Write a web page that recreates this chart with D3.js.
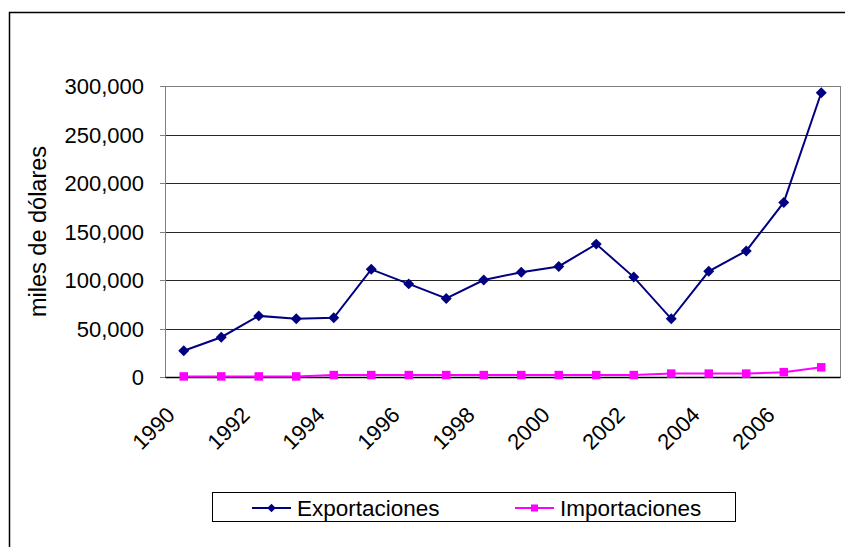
<!DOCTYPE html>
<html>
<head>
<meta charset="utf-8">
<script src="https://cdn.jsdelivr.net/npm/d3@7/dist/d3.min.js"></script>
<style>
  body { margin: 0; background: #fff; }
  svg text { font-family: 'Liberation Sans', Arial, sans-serif; fill: #000; }
</style>
</head>
<body>
<svg id="chart"></svg>
<script>
// data (miles de dólares)
const years = ['1990', '1991', '1992', '1993', '1994', '1995', '1996', '1997', '1998',
  '1999', '2000', '2001', '2002', '2003', '2004', '2005', '2006', '2007'];
const exportaciones = [27000, 41000, 63000, 60000, 61000, 111000, 96000, 81000, 100000,
  108000, 114000, 137000, 103000, 60000, 109000, 130000, 180000, 293000];
const importaciones = [600, 600, 600, 600, 2000, 2000, 2000, 2000, 2000,
  2000, 2000, 2000, 2000, 3500, 3500, 3500, 5000, 10000];
const yTicks = [0, 50000, 100000, 150000, 200000, 250000, 300000];
const xTickLabels = ['1990', '1992', '1994', '1996', '1998', '2000', '2002', '2004', '2006'];

const width = 845;
const height = 547;
const margin = {left: 165, top: 86, right: 5, bottom: 170};
const innerW = width - margin.left - margin.right;
const innerH = height - margin.top - margin.bottom;

const svg = d3.select('#chart')
  .attr('width', width)
  .attr('height', height);

// outer chart frame (runs off the right / bottom edge)
svg.append('rect')
  .attr('x', 9.5).attr('y', 12.5)
  .attr('width', 900).attr('height', 600)
  .attr('fill', 'none')
  .attr('stroke', '#000')
  .attr('stroke-width', 1.5);

const g = svg.append('g')
  .attr('transform', `translate(${margin.left}, ${margin.top})`);

const xScale = d3.scaleBand()
  .domain(years)
  .range([0, innerW]);

const yScale = d3.scaleLinear()
  .domain([0, 300000])
  .range([innerH, 0]);

const xMid = d => xScale(d) + xScale.bandwidth() / 2;

// gridlines
g.append('g')
  .attr('class', 'grid')
  .call(d3.axisLeft(yScale).tickValues(yTicks).tickSize(-innerW).tickFormat(''))
  .call(s => s.select('.domain').remove())
  .selectAll('line')
    .attr('stroke', '#262626')
    .attr('shape-rendering', 'crispEdges');

// plot frame
g.append('rect')
  .attr('width', innerW)
  .attr('height', innerH)
  .attr('fill', 'none')
  .attr('stroke', '#808080')
  .attr('shape-rendering', 'crispEdges');

// y axis
const yAxis = d3.axisLeft(yScale)
  .tickValues(yTicks)
  .tickSize(5)
  .tickPadding(16)
  .tickFormat(d3.format(','));

g.append('g')
  .attr('class', 'y-axis')
  .call(yAxis)
  .call(s => s.select('.domain').attr('stroke', '#808080').attr('shape-rendering', 'crispEdges'))
  .call(s => s.selectAll('.tick line').attr('stroke', '#808080').attr('shape-rendering', 'crispEdges'))
  .selectAll('text')
    .attr('font-size', 22)
    .attr('dy', '0.35em');

// x axis (base line + rotated labels)
const xAxis = d3.axisBottom(xScale)
  .tickValues(xTickLabels)
  .tickSize(0);

const xAxisG = g.append('g')
  .attr('class', 'x-axis')
  .attr('transform', `translate(0, ${innerH})`)
  .call(xAxis);

xAxisG.select('.domain')
  .attr('stroke', '#000')
  .attr('stroke-width', 1.5);

xAxisG.selectAll('text')
  .attr('font-size', 22)
  .attr('y', 0)
  .attr('dy', '0.35em')
  .attr('text-anchor', 'end')
  .attr('transform', 'translate(-13, 34) rotate(-45)');

// axis title
svg.append('text')
  .attr('transform', `translate(38, ${margin.top + innerH / 2}) rotate(-90)`)
  .attr('text-anchor', 'middle')
  .attr('dy', '0.35em')
  .attr('font-size', 23.5)
  .text('miles de dólares');

// series
const lineExp = d3.line()
  .x((_, i) => xMid(years[i]))
  .y(d => yScale(d));

const diamond = d3.symbol().type(d3.symbolSquare).size(60);
const square = d3.symbol().type(d3.symbolSquare).size(72);

g.append('path')
  .datum(importaciones)
  .attr('fill', 'none')
  .attr('stroke', '#ff00ff')
  .attr('stroke-width', 2)
  .attr('d', lineExp);

g.append('path')
  .datum(exportaciones)
  .attr('fill', 'none')
  .attr('stroke', '#000080')
  .attr('stroke-width', 2)
  .attr('d', lineExp);

g.append('g')
  .selectAll('path')
  .data(exportaciones)
  .join('path')
    .attr('d', diamond)
    .attr('fill', '#000080')
    .attr('transform', (d, i) => `translate(${xMid(years[i])}, ${yScale(d)}) rotate(45)`);

g.append('g')
  .selectAll('path')
  .data(importaciones)
  .join('path')
    .attr('d', square)
    .attr('fill', '#ff00ff')
    .attr('transform', (d, i) => `translate(${xMid(years[i])}, ${yScale(d)})`);

// legend
const legend = svg.append('g').attr('class', 'legend');
legend.append('rect')
  .attr('x', 212.5).attr('y', 492.5)
  .attr('width', 523).attr('height', 29)
  .attr('fill', '#fff')
  .attr('stroke', '#000');

const legendItems = [
  {name: 'Exportaciones', color: '#000080', sym: d3.symbol().type(d3.symbolSquare).size(36), rot: 45, x: 252},
  {name: 'Importaciones', color: '#ff00ff', sym: d3.symbol().type(d3.symbolSquare).size(50), rot: 0, x: 515},
];

const li = legend.selectAll('g.item')
  .data(legendItems)
  .join('g')
    .attr('class', 'item')
    .attr('transform', d => `translate(${d.x}, 508)`);

li.append('line')
  .attr('x1', 0).attr('x2', 39)
  .attr('stroke', d => d.color)
  .attr('stroke-width', 2);

li.append('path')
  .attr('d', d => d.sym())
  .attr('fill', d => d.color)
  .attr('transform', d => `translate(19.5, 0) rotate(${d.rot})`);

li.append('text')
  .attr('x', 45)
  .attr('dy', '0.35em')
  .attr('font-size', 22.5)
  .text(d => d.name);
</script>
</body>
</html>
